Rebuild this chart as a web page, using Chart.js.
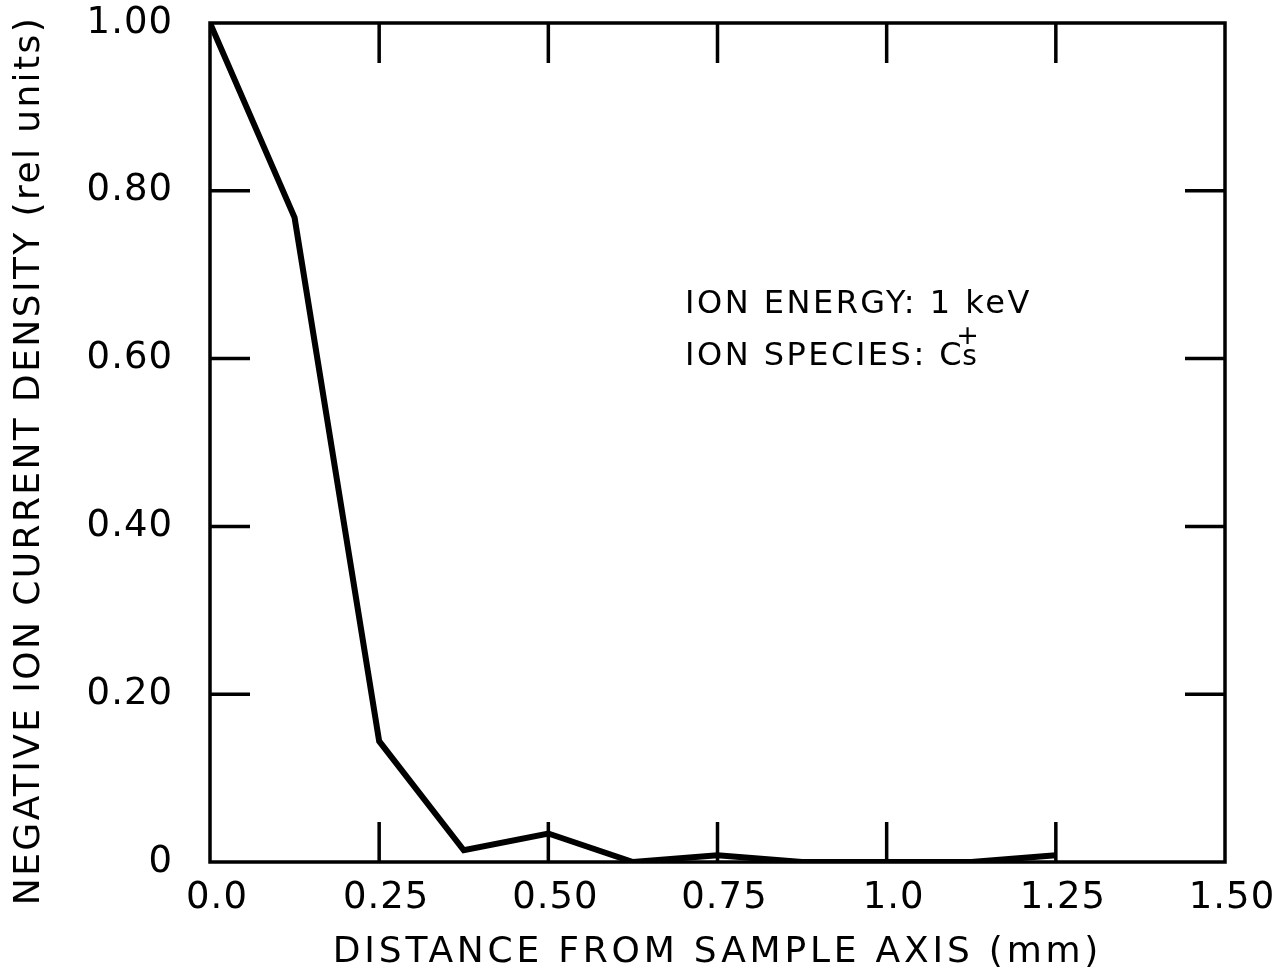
<!DOCTYPE html>
<html>
<head>
<meta charset="utf-8">
<script src="https://cdn.jsdelivr.net/npm/chart.js@4"></script>
<style>
  html, body { margin: 0; padding: 0; background: #fff; }
  #wrap { width: 1272px; height: 979px; }
</style>
</head>
<body>
<div id="wrap"><canvas id="myChart"></canvas></div>
<script>
const DISTANCE = [0, 0.125, 0.25, 0.375, 0.5, 0.625, 0.75, 0.875, 1.0, 1.125, 1.25];
const CURRENT_DENSITY = [1.0, 0.768, 0.144, 0.014, 0.034, 0.0, 0.008, 0.0, 0.0, 0.0, 0.008];
const X_TICK_LABELS = ['0.0', '0.25', '0.50', '0.75', '1.0', '1.25', '1.50'];
const Y_TICK_LABELS = ['0', '0.20', '0.40', '0.60', '0.80', '1.00'];
const X_TITLE = 'DISTANCE FROM SAMPLE AXIS (mm)';
const Y_TITLE = 'NEGATIVE ION CURRENT DENSITY (rel units)';
const NOTE_ENERGY = 'ION ENERGY: 1 keV';
const NOTE_SPECIES = 'ION SPECIES: C';

const FONT = '"DejaVu Sans", sans-serif';
const INK = '#000';

// tick labels: slightly spaced like the hand lettering
const spacingPlugin = {
  id: 'spacing',
  beforeDraw(chart) {
    chart.ctx.letterSpacing = '1px';
  }
};

// frame with inward ticks on all four sides
const framePlugin = {
  id: 'frame',
  afterDatasetsDraw(chart) {
    const ctx = chart.ctx;
    const { left, right, top, bottom } = chart.chartArea;
    const xs = chart.scales.x;
    const ys = chart.scales.y;
    const len = 40;
    ctx.save();
    ctx.strokeStyle = INK;
    ctx.lineWidth = 3.5;
    ctx.strokeRect(left, top, right - left, bottom - top);
    xs.ticks.forEach((t) => {
      if (t.value <= xs.min || t.value >= xs.max) return;
      const px = xs.getPixelForValue(t.value);
      ctx.beginPath();
      ctx.moveTo(px, top); ctx.lineTo(px, top + len);
      ctx.moveTo(px, bottom); ctx.lineTo(px, bottom - len);
      ctx.stroke();
    });
    ys.ticks.forEach((t) => {
      if (t.value <= ys.min || t.value >= ys.max) return;
      const py = ys.getPixelForValue(t.value);
      ctx.beginPath();
      ctx.moveTo(left, py); ctx.lineTo(left + len, py);
      ctx.moveTo(right, py); ctx.lineTo(right - len, py);
      ctx.stroke();
    });
    ctx.restore();
  }
};

// axis titles and the annotation, wider letter spacing than the ticks
const textPlugin = {
  id: 'texts',
  afterDraw(chart) {
    const ctx = chart.ctx;
    const { left, right, top, bottom } = chart.chartArea;
    const xs = chart.scales.x;
    const ys = chart.scales.y;
    ctx.save();
    ctx.fillStyle = INK;

    ctx.font = '36px ' + FONT;
    ctx.letterSpacing = '3.8px';
    ctx.textAlign = 'center';
    ctx.textBaseline = 'middle';
    ctx.fillText(X_TITLE, (left + right) / 2, bottom + 91);

    ctx.save();
    ctx.letterSpacing = '2.4px';
    ctx.translate(30, (top + bottom) / 2 + 18);
    ctx.rotate(-Math.PI / 2);
    ctx.fillText(Y_TITLE, 0, 0);
    ctx.restore();

    const x0 = xs.getPixelForValue(0.702);
    const y1 = ys.getPixelForValue(0.654);
    const y2 = ys.getPixelForValue(0.592);
    ctx.font = '32px ' + FONT;
    ctx.letterSpacing = '2.5px';
    ctx.textBaseline = 'alphabetic';
    ctx.textAlign = 'left';
    ctx.fillText(NOTE_ENERGY, x0, y1);
    ctx.fillText(NOTE_SPECIES, x0, y2);
    const w = ctx.measureText(NOTE_SPECIES).width;
    ctx.font = '28px ' + FONT;
    ctx.fillText('s', x0 + w - 2, y2);
    const sw = ctx.measureText('s').width;
    ctx.font = '27px ' + FONT;
    ctx.textAlign = 'center';
    ctx.fillText('+', x0 + w - 2 + sw / 2 - 2, y2 - 21);
    ctx.restore();
  }
};

const chartData = {
  datasets: [{
    data: DISTANCE.map((d, i) => ({ x: d, y: CURRENT_DENSITY[i] })),
    borderColor: INK,
    borderWidth: 6,
    pointRadius: 0,
    tension: 0,
    fill: false,
    borderJoinStyle: 'miter',
  }],
};

const config = {
  type: 'line',
  data: chartData,
  options: {
    responsive: false,
    animation: false,
    devicePixelRatio: 1,
    layout: { padding: { left: 0, right: 47, top: 23, bottom: 0 } },
    plugins: { legend: { display: false }, tooltip: { enabled: false } },
    scales: {
      x: {
        type: 'linear',
        min: 0,
        max: 1.5,
        grid: { display: false, drawTicks: false },
        border: { display: false },
        ticks: {
          stepSize: 0.25,
          padding: 14,
          labelOffset: 7,
          color: INK,
          font: { family: FONT, size: 37 },
          maxRotation: 0,
          callback: (v) => X_TICK_LABELS[Math.round(v / 0.25)],
        },
        afterFit: (scale) => {
          scale.height = 979 - 862;
          scale.paddingLeft = 0;
          scale.paddingRight = 0;
        },
      },
      y: {
        min: 0,
        max: 1,
        grid: { display: false, drawTicks: false },
        border: { display: false },
        ticks: {
          stepSize: 0.2,
          padding: 37,
          color: INK,
          font: { family: FONT, size: 37 },
          callback: (v) => Y_TICK_LABELS[Math.round(v / 0.2)],
        },
        afterFit: (scale) => {
          scale.width = 210;
          scale.paddingTop = 0;
          scale.paddingBottom = 0;
        },
      },
    },
  },
  plugins: [spacingPlugin, framePlugin, textPlugin],
};

const canvas = document.querySelector('#myChart');
canvas.width = 1272;
canvas.height = 979;
const myChart = new Chart(canvas, config);
</script>
</body>
</html>
